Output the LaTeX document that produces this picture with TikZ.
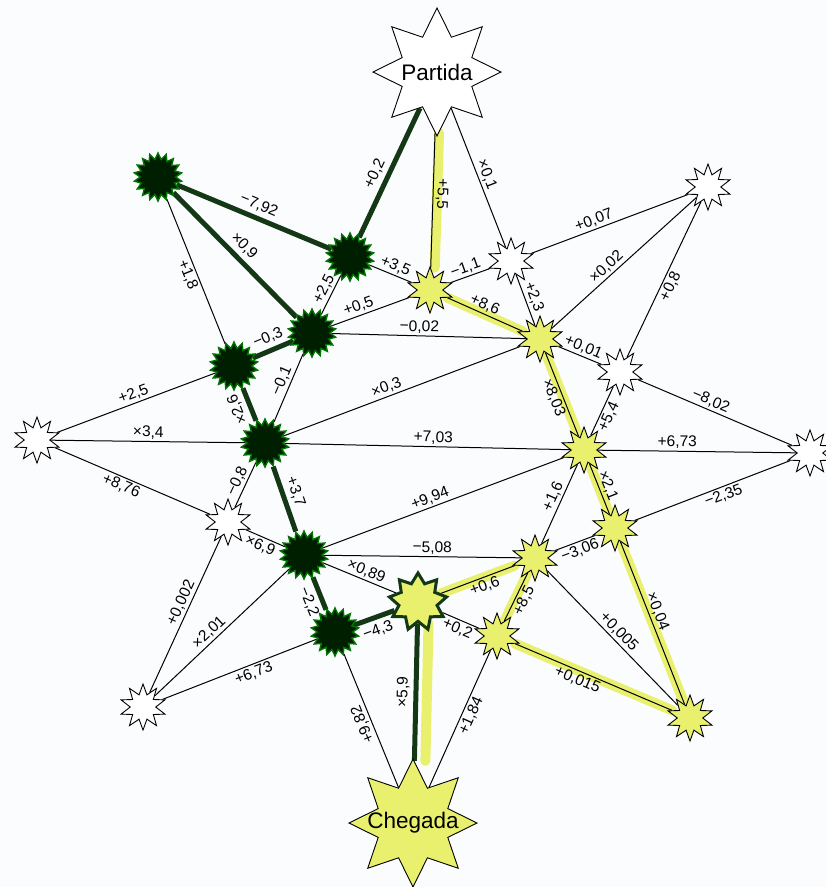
\documentclass[tikz,border=0pt]{standalone}
\usepackage{fontspec}
\setmainfont{Liberation Sans}
\usepackage{tikz}
\usetikzlibrary{shapes.geometric,backgrounds}
\definecolor{lime}{RGB}{232,240,110}
\definecolor{moss}{RGB}{20,56,22}
\definecolor{paper}{RGB}{250,252,254}

\begin{document}
\begin{tikzpicture}[x=1pt, y=-1pt, font=\fontsize{15.5}{17}\selectfont,
  wstar/.style={star, star points=10, star point ratio=1.8, minimum size=46pt, inner sep=0pt, draw, line width=0.9pt, fill=white},
  ystar/.style={wstar, fill=lime},
  gstar/.style={star, star points=18, star point ratio=1.35, minimum size=48pt, inner sep=0pt, draw=green!45!black, line width=1.4pt, fill=black!88!green},
  hstar/.style={star, star points=9, star point ratio=1.5, minimum size=58pt, inner sep=0pt, draw=moss, line width=3pt, fill=lime},
  bigstar/.style={star, star points=8, star point ratio=1.7, minimum size=128pt, inner sep=0pt, draw, line width=0.9pt, label={[font=\fontsize{22.5}{26}\selectfont]center:#1}},
  lbl/.style={sloped, allow upside down, above, inner sep=2pt, text=black},
  lbr/.style={sloped, allow upside down, below, inner sep=2pt, text=black},
  link/.style={line width=1pt},
  hi/.style={line width=10pt, lime, line cap=round},
  gpath/.style={line width=5pt, moss}]
\useasboundingbox (0,0) rectangle (826,887);
\node[bigstar=Partida, fill=white] (start) at (437,72) {};
\node[bigstar=Chegada, fill=lime] (goal) at (413,823) {};
\node[gstar] (g1) at (158,177) {};
\node[gstar] (g2) at (350,257) {};
\node[gstar] (g3) at (312,333) {};
\node[gstar] (g4) at (234,366) {};
\node[gstar] (g5) at (265,443) {};
\node[gstar] (g6) at (304,555) {};
\node[gstar] (g7) at (335,632) {};
\node[hstar] (hub) at (418,602) {};
\node[ystar] (y1) at (430,290) {};
\node[ystar] (y2) at (540,339) {};
\node[ystar] (y3) at (584,450) {};
\node[ystar] (y4) at (615,528) {};
\node[ystar] (y5) at (535,558) {};
\node[ystar] (y6) at (497,636) {};
\node[ystar] (y7) at (690,718) {};
\node[wstar] (w1) at (511,261) {};
\node[wstar] (w2) at (620,372) {};
\node[wstar] (w3) at (228,522) {};
\node[wstar] (wtr) at (708,187) {};
\node[wstar] (wl) at (37,440) {};
\node[wstar] (wr) at (810,453) {};
\node[wstar] (wbl) at (143,707) {};
\begin{scope}[on background layer]
\fill[paper] (0,0) rectangle (826,887);
\draw[hi, transform canvas={xshift=4pt}] (start) -- (y1);
\draw[hi] (y1) -- (y2);
\draw[hi] (y2) -- (y3);
\draw[hi] (y3) -- (y4);
\draw[hi] (y4) -- (y7);
\draw[hi] (y7) -- (y6);
\draw[hi] (y6) -- (y5);
\draw[hi] (y5) -- (hub);
\draw[hi, transform canvas={xshift=11pt}] (hub) -- (goal);
\draw[link] (start) -- node[lbl, pos=.5] {×0,1} (w1);
\draw[link] (start) -- node[lbl, pos=.45] {+5,5} (y1);
\draw[link] (g1) -- node[lbr, pos=.5] {+1,8} (g4);
\draw[link] (g2) -- node[lbl, pos=.55] {+3,5} (y1);
\draw[link] (g3) -- node[lbl, pos=.55] {+2,5} (g2);
\draw[link] (g3) -- node[lbl, pos=.4] {+0,5} (y1);
\draw[link] (g3) -- node[lbl, pos=.45] {−0,02} (y2);
\draw[link] (g5) -- node[lbl, pos=.55] {−0,1} (g3);
\draw[link] (y1) -- node[lbl, pos=.45] {−1,1} (w1);
\draw[link] (y1) -- node[lbl, pos=.45] {+8,6} (y2);
\draw[link] (w1) -- node[lbl, pos=.5] {+2,3} (y2);
\draw[link] (w1) -- node[lbl, pos=.42] {+0,07} (wtr);
\draw[link] (y2) -- node[lbl, pos=.42] {×0,02} (wtr);
\draw[link] (w2) -- node[lbr, pos=.48] {+0,8} (wtr);
\draw[link] (y2) -- node[lbl, pos=.5] {+0,01} (w2);
\draw[link] (y2) -- node[lbr, pos=.5] {×8,03} (y3);
\draw[link] (wl) -- node[lbl, pos=.5] {+2,5} (g4);
\draw[link] (wl) -- node[lbl, pos=.5] {×3,4} (g5);
\draw[link] (g5) -- node[lbl, pos=.45] {×0,3} (y2);
\draw[link] (g5) -- node[lbl, pos=.52] {+7,03} (y3);
\draw[link] (w3) -- node[lbl, pos=.5] {−0,8} (g5);
\draw[link] (w2) -- node[lbl, pos=.45] {−8,02} (wr);
\draw[link] (y3) -- node[lbr, pos=.45] {+5,4} (w2);
\draw[link] (y3) -- node[lbl, pos=.4] {+6,73} (wr);
\draw[link] (y3) -- node[lbl, pos=.5] {×2,1} (y4);
\draw[link] (y5) -- node[lbl, pos=.55] {+1,6} (y3);
\draw[link] (g6) -- node[lbl, pos=.46] {+9,94} (y3);
\draw[link] (wl) -- node[lbr, pos=.45] {+8,76} (w3);
\draw[link] (w3) -- node[lbr, pos=.46] {×6,9} (g6);
\draw[link] (wbl) -- node[lbl, pos=.55] {+0,002} (w3);
\draw[link] (g6) -- node[lbl, pos=.55] {−5,08} (y5);
\draw[link] (g6) -- node[lbl, pos=.55] {×0,89} (hub);
\draw[link] (wbl) -- node[lbl, pos=.45] {×2,01} (g6);
\draw[link] (y4) -- node[lbr, pos=.55] {−2,35} (wr);
\draw[link] (y5) -- node[lbr, pos=.55] {−3,06} (y4);
\draw[link] (y4) -- node[lbl, pos=.45] {×0,04} (y7);
\draw[link] (hub) -- node[lbr, pos=.55] {+0,6} (y5);
\draw[link] (y6) -- node[lbr, pos=.5] {+8,5} (y5);
\draw[link] (y5) -- node[lbl, pos=.5] {+0,005} (y7);
\draw[link] (wbl) -- node[lbr, pos=.57] {+6,73} (g7);
\draw[link] (goal) -- node[lbl, pos=.5] {+9,82} (g7);
\draw[link] (hub) -- node[lbr, pos=.5] {+0,2} (y6);
\draw[link] (goal) -- node[lbr, pos=.55] {+1,84} (y6);
\draw[link] (y6) -- node[lbr, pos=.42] {+0,015} (y7);
\draw[gpath] (g2) -- node[lbl, pos=.45, inner sep=4pt] {+0,2} (start);
\draw[gpath] (g1) -- node[lbl, pos=.5, inner sep=4pt] {−7,92} (g2);
\draw[gpath] (g1) -- node[lbl, pos=.5, inner sep=4pt] {×0,9} (g3);
\draw[gpath] (g4) -- node[lbl, pos=.5, inner sep=4pt] {−0,3} (g3);
\draw[gpath] (g5) -- node[lbl, pos=.5, inner sep=4pt] {×2,6} (g4);
\draw[gpath] (g5) -- node[lbl, pos=.45, inner sep=4pt] {+3,7} (g6);
\draw[gpath] (g6) -- node[lbr, pos=.6, inner sep=4pt] {−2,2} (g7);
\draw[gpath] (g7) -- node[lbr, pos=.5, inner sep=4pt] {−4,3} (hub);
\draw[gpath] (goal) -- node[lbl, pos=.5, inner sep=4pt] {×5,9} (hub);
\end{scope}
\end{tikzpicture}
\end{document}
